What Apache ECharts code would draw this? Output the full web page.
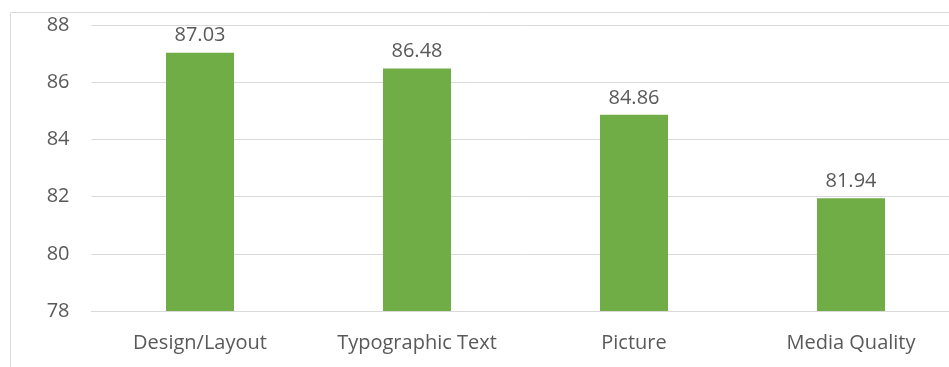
<!DOCTYPE html>
<html>
<head>
<meta charset="utf-8">
<script src="https://cdn.jsdelivr.net/npm/echarts@6/dist/echarts.min.js"></script>
<style>
  html, body { margin: 0; padding: 0; background: #fff; }
  #chart { width: 949px; height: 367px; }
</style>
</head>
<body>
<div id="chart"></div>
<script>
// Average scores by evaluation aspect
const categories = ['Design/Layout', 'Typographic Text', 'Picture', 'Media Quality'];
const scores = [87.03, 86.48, 84.86, 81.94];
const yTicks = [78, 80, 82, 84, 86, 88];

const chart = echarts.init(document.getElementById('chart'));
const textColor = '#595959';
const fontFamily = '"Open Sans", "Noto Sans", sans-serif';

chart.setOption({
  animation: false,
  textStyle: { fontFamily: fontFamily },
  graphic: [{
    type: 'rect',
    left: 8, top: 10,
    shape: { width: 1000, height: 400 },
    style: { fill: 'none', stroke: '#d9d9d9', lineWidth: 1 },
    silent: true
  }],
  grid: {
    left: 91.5, width: 868, top: 25, height: 286,
    containLabel: false,
    outerBoundsMode: 'none'
  },
  xAxis: {
    type: 'category',
    data: categories,
    axisLine: { show: true, lineStyle: { color: '#d9d9d9', width: 1 } },
    axisTick: { show: false },
    axisLabel: { color: textColor, fontSize: 20, margin: 22, fontFamily: fontFamily }
  },
  yAxis: {
    type: 'value',
    min: yTicks[0],
    max: yTicks[yTicks.length - 1],
    interval: 2,
    axisLine: { show: false },
    axisTick: { show: false },
    splitLine: { lineStyle: { color: '#d9d9d9', width: 1 } },
    axisLabel: { color: textColor, fontSize: 20, margin: 22, fontFamily: fontFamily }
  },
  series: [{
    type: 'bar',
    data: scores,
    barWidth: 68,
    itemStyle: { color: '#70ad47' },
    label: {
      show: true,
      position: 'top',
      distance: 7,
      color: textColor,
      fontSize: 20,
      fontFamily: fontFamily,
      formatter: p => p.value.toFixed(2)
    }
  }]
});
</script>
</body>
</html>
